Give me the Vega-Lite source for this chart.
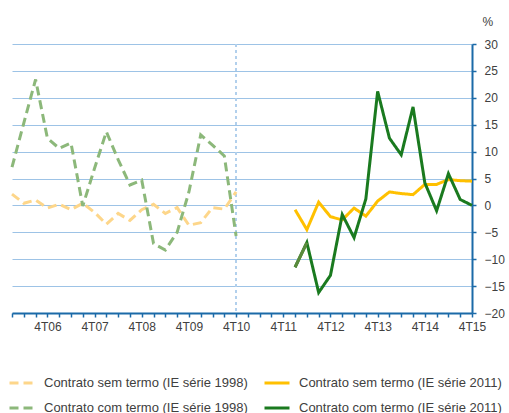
{
  "$schema": "https://vega.github.io/schema/vega-lite/v6.json",
  "autosize": {"type": "none"},
  "width": 460,
  "height": 269,
  "padding": {"left": 12, "top": 44, "right": 37, "bottom": 100},
  "background": "white",
  "config": {
    "font": "Liberation Sans",
    "view": {"stroke": null}
  },
  "data": {"values": [
    {"q": "1T06", "s": "Contrato sem termo (IE série 1998)", "v": 2.1},
    {"q": "2T06", "s": "Contrato sem termo (IE série 1998)", "v": 0.4},
    {"q": "3T06", "s": "Contrato sem termo (IE série 1998)", "v": 1.0},
    {"q": "4T06", "s": "Contrato sem termo (IE série 1998)", "v": -0.5},
    {"q": "1T07", "s": "Contrato sem termo (IE série 1998)", "v": 0.2},
    {"q": "2T07", "s": "Contrato sem termo (IE série 1998)", "v": -0.8},
    {"q": "3T07", "s": "Contrato sem termo (IE série 1998)", "v": 0.4},
    {"q": "4T07", "s": "Contrato sem termo (IE série 1998)", "v": -1.3},
    {"q": "1T08", "s": "Contrato sem termo (IE série 1998)", "v": -3.5},
    {"q": "2T08", "s": "Contrato sem termo (IE série 1998)", "v": -1.5},
    {"q": "3T08", "s": "Contrato sem termo (IE série 1998)", "v": -2.8},
    {"q": "4T08", "s": "Contrato sem termo (IE série 1998)", "v": -0.8},
    {"q": "1T09", "s": "Contrato sem termo (IE série 1998)", "v": 0.2},
    {"q": "2T09", "s": "Contrato sem termo (IE série 1998)", "v": -1.5},
    {"q": "3T09", "s": "Contrato sem termo (IE série 1998)", "v": -0.4},
    {"q": "4T09", "s": "Contrato sem termo (IE série 1998)", "v": -3.7},
    {"q": "1T10", "s": "Contrato sem termo (IE série 1998)", "v": -3.2},
    {"q": "2T10", "s": "Contrato sem termo (IE série 1998)", "v": -0.4},
    {"q": "3T10", "s": "Contrato sem termo (IE série 1998)", "v": -0.7},
    {"q": "4T10", "s": "Contrato sem termo (IE série 1998)", "v": 2.5},
    {"q": "1T12", "s": "Contrato sem termo (IE série 2011)", "v": -0.8},
    {"q": "2T12", "s": "Contrato sem termo (IE série 2011)", "v": -4.5},
    {"q": "3T12", "s": "Contrato sem termo (IE série 2011)", "v": 0.6},
    {"q": "4T12", "s": "Contrato sem termo (IE série 2011)", "v": -2.1},
    {"q": "1T13", "s": "Contrato sem termo (IE série 2011)", "v": -2.7},
    {"q": "2T13", "s": "Contrato sem termo (IE série 2011)", "v": -0.5},
    {"q": "3T13", "s": "Contrato sem termo (IE série 2011)", "v": -2.0},
    {"q": "4T13", "s": "Contrato sem termo (IE série 2011)", "v": 0.8},
    {"q": "1T14", "s": "Contrato sem termo (IE série 2011)", "v": 2.5},
    {"q": "2T14", "s": "Contrato sem termo (IE série 2011)", "v": 2.2},
    {"q": "3T14", "s": "Contrato sem termo (IE série 2011)", "v": 2.0},
    {"q": "4T14", "s": "Contrato sem termo (IE série 2011)", "v": 3.9},
    {"q": "1T15", "s": "Contrato sem termo (IE série 2011)", "v": 3.9},
    {"q": "2T15", "s": "Contrato sem termo (IE série 2011)", "v": 4.8},
    {"q": "3T15", "s": "Contrato sem termo (IE série 2011)", "v": 4.6},
    {"q": "4T15", "s": "Contrato sem termo (IE série 2011)", "v": 4.5},
    {"q": "1T06", "s": "Contrato com termo (IE série 1998)", "v": 7.1},
    {"q": "2T06", "s": "Contrato com termo (IE série 1998)", "v": 15.3},
    {"q": "3T06", "s": "Contrato com termo (IE série 1998)", "v": 23.4},
    {"q": "4T06", "s": "Contrato com termo (IE série 1998)", "v": 12.5},
    {"q": "1T07", "s": "Contrato com termo (IE série 1998)", "v": 10.6},
    {"q": "2T07", "s": "Contrato com termo (IE série 1998)", "v": 11.6},
    {"q": "3T07", "s": "Contrato com termo (IE série 1998)", "v": -0.1},
    {"q": "4T07", "s": "Contrato com termo (IE série 1998)", "v": 6.9},
    {"q": "1T08", "s": "Contrato com termo (IE série 1998)", "v": 13.7},
    {"q": "2T08", "s": "Contrato com termo (IE série 1998)", "v": 8.5},
    {"q": "3T08", "s": "Contrato com termo (IE série 1998)", "v": 3.8},
    {"q": "4T08", "s": "Contrato com termo (IE série 1998)", "v": 4.7},
    {"q": "1T09", "s": "Contrato com termo (IE série 1998)", "v": -7.1},
    {"q": "2T09", "s": "Contrato com termo (IE série 1998)", "v": -8.3},
    {"q": "3T09", "s": "Contrato com termo (IE série 1998)", "v": -5.0},
    {"q": "4T09", "s": "Contrato com termo (IE série 1998)", "v": 2.5},
    {"q": "1T10", "s": "Contrato com termo (IE série 1998)", "v": 13.1},
    {"q": "2T10", "s": "Contrato com termo (IE série 1998)", "v": 11.2},
    {"q": "3T10", "s": "Contrato com termo (IE série 1998)", "v": 9.2},
    {"q": "4T10", "s": "Contrato com termo (IE série 1998)", "v": -5.7},
    {"q": "1T12", "s": "Contrato com termo (IE série 2011)", "v": -11.5},
    {"q": "2T12", "s": "Contrato com termo (IE série 2011)", "v": -6.9},
    {"q": "3T12", "s": "Contrato com termo (IE série 2011)", "v": -16.2},
    {"q": "4T12", "s": "Contrato com termo (IE série 2011)", "v": -13.0},
    {"q": "1T13", "s": "Contrato com termo (IE série 2011)", "v": -1.7},
    {"q": "2T13", "s": "Contrato com termo (IE série 2011)", "v": -6.0},
    {"q": "3T13", "s": "Contrato com termo (IE série 2011)", "v": 1.2},
    {"q": "4T13", "s": "Contrato com termo (IE série 2011)", "v": 21.2},
    {"q": "1T14", "s": "Contrato com termo (IE série 2011)", "v": 12.5},
    {"q": "2T14", "s": "Contrato com termo (IE série 2011)", "v": 9.4},
    {"q": "3T14", "s": "Contrato com termo (IE série 2011)", "v": 18.3},
    {"q": "4T14", "s": "Contrato com termo (IE série 2011)", "v": 4.2},
    {"q": "1T15", "s": "Contrato com termo (IE série 2011)", "v": -1.0},
    {"q": "2T15", "s": "Contrato com termo (IE série 2011)", "v": 5.9},
    {"q": "3T15", "s": "Contrato com termo (IE série 2011)", "v": 1.1},
    {"q": "4T15", "s": "Contrato com termo (IE série 2011)", "v": 0.0}
  ]},
  "encoding": {
    "x": {
      "field": "q", "type": "ordinal",
      "scale": {
        "type": "point", "padding": 0,
        "domain": ["1T06","2T06","3T06","4T06","1T07","2T07","3T07","4T07","1T08","2T08","3T08","4T08","1T09","2T09","3T09","4T09","1T10","2T10","3T10","4T10","1T11","2T11","3T11","4T11","1T12","2T12","3T12","4T12","1T13","2T13","3T13","4T13","1T14","2T14","3T14","4T14","1T15","2T15","3T15","4T15"]
      },
      "axis": {
        "title": null,
        "labelAngle": 0,
        "labelExpr": "indexof(datum.label, '4T') == 0 ? datum.label : ''",
        "labelFont": "Liberation Sans",
        "labelFontSize": 12,
        "labelColor": "#404040",
        "labelPadding": 4,
        "domainColor": "#1b6aa8",
        "domainWidth": 2,
        "tickColor": "#1b6aa8",
        "tickWidth": 1.5,
        "tickSize": 4,
        "grid": false,
        "labelOverlap": false
      }
    },
    "y": {
      "field": "v", "type": "quantitative",
      "scale": {"domain": [-20, 30], "nice": false, "zero": false},
      "axis": {
        "orient": "right",
        "values": [-20, -15, -10, -5, 0, 5, 10, 15, 20, 25, 30],
        "labelOverlap": false,
        "title": "%",
        "titleAngle": 0,
        "titleX": 10,
        "titleY": -19,
        "titleAlign": "left",
        "titleBaseline": "alphabetic",
        "titleFont": "Liberation Sans",
        "titleFontSize": 12,
        "titleFontWeight": "normal",
        "titleColor": "#404040",
        "labelFont": "Liberation Sans",
        "labelFontSize": 12,
        "labelColor": "#404040",
        "labelPadding": 8,
        "domainColor": "#1b6aa8",
        "domainWidth": 2,
        "tickColor": "#1b6aa8",
        "tickWidth": 1.5,
        "tickSize": 4,
        "grid": true,
        "gridColor": "#9dc3e6",
        "gridWidth": 1
      }
    }
  },
  "layer": [
    {
      "mark": {"type": "rule", "color": "#b3d1ec", "strokeDash": [3, 3], "strokeWidth": 1},
      "encoding": {
        "x": {"datum": "4T10", "type": "ordinal"},
        "y": {"datum": 30, "type": "quantitative"},
        "y2": {"datum": -20}
      }
    },
    {
      "mark": {"type": "line", "strokeWidth": 3, "strokeCap": "butt", "strokeJoin": "miter"},
      "encoding": {
        "color": {
          "field": "s", "type": "nominal",
          "scale": {
            "domain": ["Contrato sem termo (IE série 1998)", "Contrato com termo (IE série 1998)", "Contrato sem termo (IE série 2011)", "Contrato com termo (IE série 2011)"],
            "range": ["#fdd68a", "#8cb87a", "#ffc000", "#1a7a1f"]
          },
          "legend": {
            "title": null,
            "orient": "none",
            "legendX": -4,
            "legendY": 325,
            "columns": 2,
            "columnPadding": 10,
            "rowPadding": 4,
            "symbolType": "stroke",
            "symbolSize": 625,
            "symbolStrokeWidth": 3,
            "labelFont": "Liberation Sans",
            "labelFontSize": 13,
            "labelColor": "#404040",
            "labelOffset": 8,
            "labelLimit": 0
          }
        },
        "strokeDash": {
          "field": "s", "type": "nominal",
          "scale": {
            "domain": ["Contrato sem termo (IE série 1998)", "Contrato com termo (IE série 1998)", "Contrato sem termo (IE série 2011)", "Contrato com termo (IE série 2011)"],
            "range": [[9, 5], [9, 5], [1, 0], [1, 0]]
          },
          "legend": {
            "title": null,
            "orient": "none",
            "legendX": -4,
            "legendY": 325,
            "columns": 2,
            "columnPadding": 10,
            "rowPadding": 4,
            "symbolType": "stroke",
            "symbolSize": 625,
            "symbolStrokeWidth": 3,
            "labelFont": "Liberation Sans",
            "labelFontSize": 13,
            "labelColor": "#404040",
            "labelOffset": 8,
            "labelLimit": 0
          }
        },
        "order": {"field": "s", "sort": "descending"}
      }
    },
    {
      "transform": [
        {"filter": "datum.s == 'Contrato com termo (IE série 2011)' && (datum.q == '1T12' || datum.q == '2T12')"}
      ],
      "mark": {"type": "line", "strokeWidth": 3, "color": "#5a8a3c", "strokeCap": "butt"},
      "encoding": {}
    }
  ]
}
